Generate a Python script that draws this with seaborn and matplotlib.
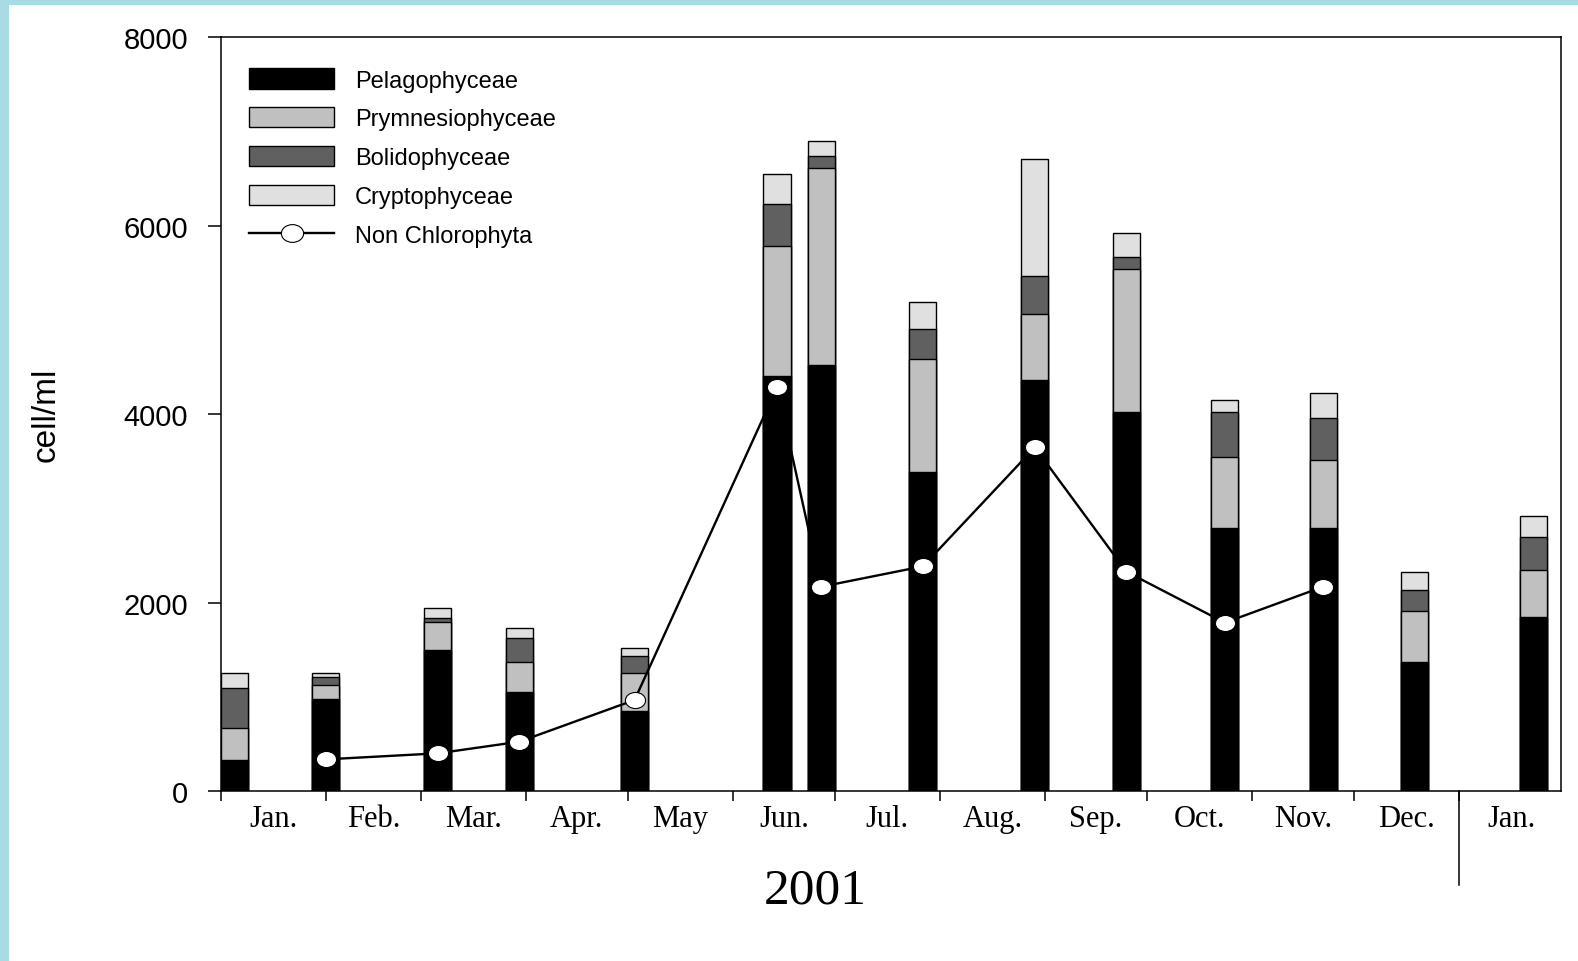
import numpy as np
import pandas as pd
import matplotlib
matplotlib.use('Agg')
import matplotlib.pyplot as plt
import seaborn as sns
from matplotlib.patches import Patch, Rectangle
from matplotlib.lines import Line2D
from matplotlib.path import Path
from matplotlib.transforms import Affine2D, blended_transform_factory

# sampling dates and cell counts (cell/ml)
sample_dates = ["2001-01-05", "2001-02-01", "2001-03-06", "2001-03-30", "2001-05-03",
                "2001-06-14", "2001-06-27", "2001-07-27", "2001-08-29", "2001-09-25",
                "2001-10-24", "2001-11-22", "2001-12-19", "2002-01-23"]
pelagophyceae = [331, 978, 1498, 1053, 848, 4403, 4523, 3390, 4363, 4024, 2793, 2793, 1374, 1852]
prymnesiophyceae = [336, 146, 294, 315, 410, 1382, 2087, 1199, 697, 1514, 750, 721, 535, 498]
bolidophyceae = [428, 84, 46, 254, 173, 443, 127, 312, 410, 127, 478, 443, 223, 344]
cryptophyceae = [159, 43, 106, 113, 89, 324, 166, 293, 1242, 255, 133, 265, 194, 229]
non_chlorophyta = [np.nan, 338, 402, 525, 968, 4286, 2170, 2386, 3649, 2329, 1788, 2170, np.nan, np.nan]

month_labels = ["Jan.", "Feb.", "Mar.", "Apr.", "May", "Jun.", "Jul.", "Aug.",
                "Sep.", "Oct.", "Nov.", "Dec.", "Jan."]
year_label = "2001"
y_ticks = [0, 2000, 4000, 6000, 8000]

groups = ["Pelagophyceae", "Prymnesiophyceae", "Bolidophyceae", "Cryptophyceae"]
group_colors = ["#000000", "#c0c0c0", "#606060", "#e0e0e0"]

t0 = pd.Timestamp("2001-01-01")
df = pd.DataFrame({
    "day": (pd.to_datetime(sample_dates) - t0).days,
    "Pelagophyceae": pelagophyceae,
    "Prymnesiophyceae": prymnesiophyceae,
    "Bolidophyceae": bolidophyceae,
    "Cryptophyceae": cryptophyceae,
    "Non Chlorophyta": non_chlorophyta,
})
cum = df[groups].cumsum(axis=1)
for g in groups:
    df["top_" + g] = cum[g]

month_starts = pd.date_range("2001-01-01", "2002-02-01", freq="MS")
start_days = np.array((month_starts - t0).days)
tick_days = start_days[:13]
mid_days = (start_days[:-1] + start_days[1:]) / 2.0

# ---------------------------------------------------------------------------
fig = plt.figure(figsize=(15.78, 9.62), dpi=100)
fig.patch.set_facecolor("#a9dbe5")
fig.add_artist(Rectangle((9 / 1578, 0), 1, 1 - 6 / 962, transform=fig.transFigure,
                         facecolor="white", edgecolor="none", zorder=0))
ax = fig.add_axes([0.1399, 0.1765, 0.8491, 0.7837])
ax.set_facecolor("white")

bar_days = 8
width = bar_days / np.min(np.diff(np.sort(df["day"].unique())))

# stacked bars: draw cumulative totals from the top segment down
for g, c in reversed(list(zip(groups, group_colors))):
    sns.barplot(data=df, x="day", y="top_" + g, native_scale=True, width=width,
                color=c, saturation=1, edgecolor="black", linewidth=1.0,
                errorbar=None, ax=ax)

ellipse = Path.unit_circle().transformed(Affine2D().scale(1.25, 1.0))
sns.lineplot(data=df, x="day", y="Non Chlorophyta", estimator=None, sort=False,
             color="black", linewidth=1.7, marker=ellipse, markersize=14.5,
             markerfacecolor="white", markeredgecolor="black", markeredgewidth=0.8,
             ax=ax)

ax.set_xlim(0, 395)
ax.set_ylim(0, 8000)

# y axis
ax.set_yticks(y_ticks)
ax.set_yticklabels([str(v) for v in y_ticks], fontfamily="Liberation Sans", fontsize=21)
ax.tick_params(axis="y", direction="out", length=9.5, width=1.1, pad=14, colors="black")
ax.set_ylabel("cell/ml", fontfamily="Liberation Sans", fontsize=24)
ax.yaxis.set_label_coords(-0.119, 0.5)

# x axis: ticks at month starts, labels centred in the months
ax.set_xticks(tick_days)
ax.set_xticklabels([""] * len(tick_days))
ax.tick_params(axis="x", which="major", direction="out", length=7, width=1.1)
ax.set_xticks(mid_days, minor=True)
ax.set_xticklabels(month_labels, minor=True, fontfamily="Liberation Serif", fontsize=22)
ax.tick_params(axis="x", which="minor", length=0, pad=9)
ax.set_xlabel(year_label, fontfamily="Liberation Serif", fontsize=37)
ax.xaxis.set_label_coords(0.4435, -0.1)

# long divider under the year change
trans = blended_transform_factory(ax.transData, ax.transAxes)
ax.plot([tick_days[-1], tick_days[-1]], [0, -0.124], transform=trans,
        color="black", linewidth=1.1, clip_on=False)

for s in ax.spines.values():
    s.set_visible(True)
    s.set_linewidth(1.1)
    s.set_color("black")

# legend
handles = [Patch(facecolor=c, edgecolor="black", linewidth=1.0) for c in group_colors]
handles.append(Line2D([], [], color="black", linewidth=1.7, marker=ellipse, markersize=16,
                      markerfacecolor="white", markeredgecolor="black", markeredgewidth=0.8))
labels = groups + ["Non Chlorophyta"]
leg = ax.legend(handles, labels, loc="upper left", bbox_to_anchor=(0.0213, 0.9586),
                frameon=False, borderpad=0, borderaxespad=0, handlelength=3.6,
                handleheight=0.93, handletextpad=0.88, labelspacing=0.66,
                prop={"family": "Liberation Sans", "size": 17})

fig.savefig("out.png", dpi=100)
